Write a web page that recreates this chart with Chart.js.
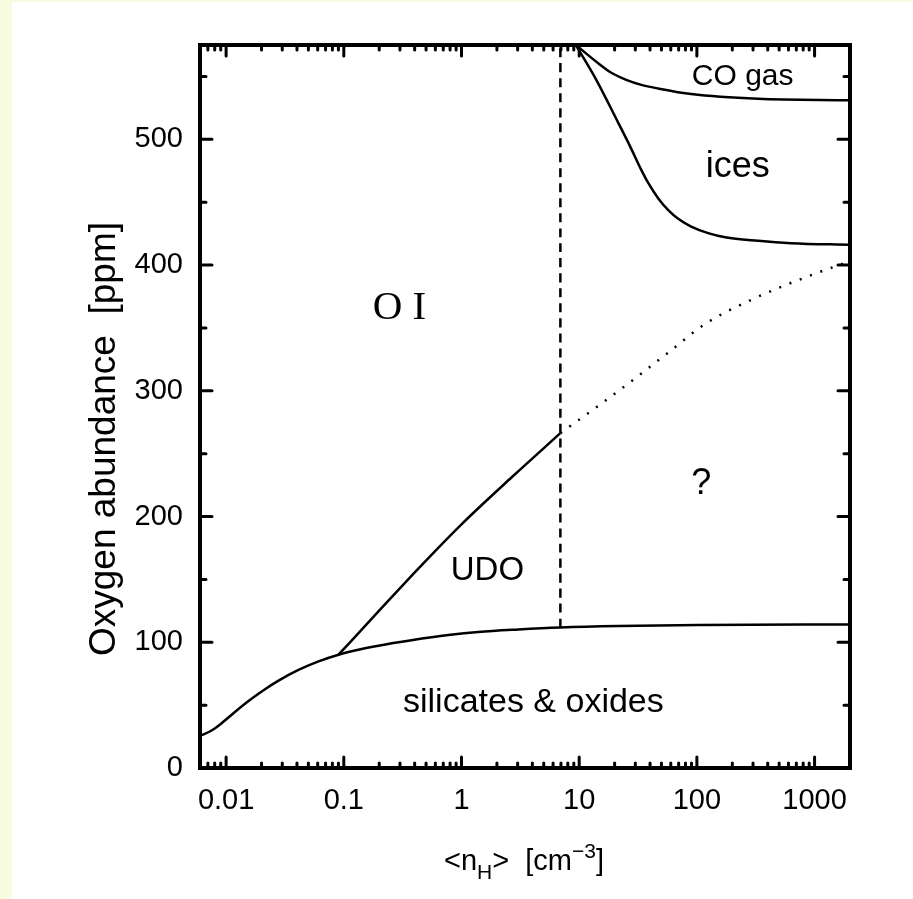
<!DOCTYPE html>
<html lang="en">
<head>
<meta charset="UTF-8">
<title>Oxygen abundance vs density</title>
<script src="https://cdn.jsdelivr.net/npm/chart.js"></script>
<style>
  body { margin: 0; background: #f7fce1; overflow: hidden; }
  .frame { position: absolute; left: 12px; top: 2px; width: 901px; height: 897px; background: #fff; }
</style>
</head>
<body>
<div class="frame"><canvas id="chart"></canvas></div>
<script>
// axis ticks
const xTicks = [0.01, 0.1, 1, 10, 100, 1000];
const xTickLabels = ['0.01', '0.1', '1', '10', '100', '1000'];
const yTicks = [0, 100, 200, 300, 400, 500];

// silicates & oxides boundary
const silX = [0.006, 0.0074, 0.009, 0.0116, 0.0155, 0.0208, 0.0279, 0.0412, 0.061, 0.0902, 0.133, 0.197, 0.376, 0.774, 1.39, 3.04, 6.92, 21.5, 103, 2000];
const silY = [25.5, 29.4, 35, 43.8, 53.3, 61.9, 69.5, 78, 84.8, 90.1, 94.1, 97.3, 101.6, 105.7, 108.2, 110.2, 111.8, 113, 113.8, 114.2];
// UDO upper boundary
const udoX = [0.0902, 0.197, 0.43, 0.99, 2.67, 6.92];
const udoY = [90.1, 124.5, 158.6, 193.4, 231.2, 266.3];
// uncertain continuation (dotted)
const dotX = [6.92, 15, 30, 60, 117, 300, 1000, 2000];
const dotY = [266.3, 289, 310, 332, 353, 373, 393, 403];
// density limit (dashed)
const limX = [6.92, 6.92];
const limY = [111.8, 575];
// CO gas boundary
const coX = [9.36, 14.5, 18.73, 25.1, 33.7, 47, 89.5, 331, 2000];
const coY = [575, 560.5, 552.9, 547.3, 543.3, 540.4, 536, 532.2, 531.1];
// ices boundary
const iceX = [9.36, 13.97, 21.48, 27.2, 33.7, 38.6, 47, 57.1, 69.4, 89.5, 124.7, 173.9, 331, 631, 2000];
const iceY = [575, 547.3, 513.1, 494, 475.7, 465.3, 453, 443.7, 436.8, 430.6, 425.4, 422.1, 419.3, 417.4, 416.1];

const regionLabels = [
  { text: 'O I', x: 0.297, y: 366, font: '41px "Liberation Serif"' },
  { text: 'CO gas', x: 245, y: 550, font: '30px "Liberation Sans"' },
  { text: 'ices', x: 222, y: 478, font: '36px "Liberation Sans"' },
  { text: '?', x: 109, y: 226, font: '36px "Liberation Sans"' },
  { text: 'UDO', x: 1.66, y: 157, font: '33px "Liberation Sans"' },
  { text: 'silicates & oxides', x: 4.08, y: 52, font: '34px "Liberation Sans"' }
];

const pts = (xs, ys) => xs.map((x, i) => ({ x: x, y: ys[i] }));

function line(xs, ys, dash) {
  return {
    data: pts(xs, ys),
    borderColor: '#000',
    borderWidth: 2.5,
    borderDash: dash || [],
    pointRadius: 0,
    cubicInterpolationMode: 'monotone',
    fill: false
  };
}

// inward ticks on all four sides + frame + titles + region labels
const decor = {
  id: 'decor',
  afterDatasetsDraw(chart) {
    const { ctx, chartArea: a, scales: { x, y } } = chart;
    ctx.save();
    ctx.strokeStyle = '#000';
    ctx.lineWidth = 3;
    ctx.lineCap = 'round';
    ctx.beginPath();
    for (let e = -3; e <= 3; e++) {
      for (let m = 1; m <= 9; m++) {
        const v = m * Math.pow(10, e);
        if (v < x.min || v > x.max) continue;
        const px = x.getPixelForValue(v);
        const len = m === 1 ? 11 : 5;
        ctx.moveTo(px, a.bottom); ctx.lineTo(px, a.bottom - len);
        ctx.moveTo(px, a.top); ctx.lineTo(px, a.top + len);
      }
    }
    for (let v = 0; v <= y.max; v += 50) {
      const py = y.getPixelForValue(v);
      const len = v % 100 === 0 ? 12 : 6;
      ctx.moveTo(a.left, py); ctx.lineTo(a.left + len, py);
      ctx.moveTo(a.right, py); ctx.lineTo(a.right - len, py);
    }
    ctx.stroke();
    ctx.lineCap = 'butt';
    ctx.lineWidth = 4;
    ctx.strokeRect(a.left, a.top, a.right - a.left, a.bottom - a.top);

    ctx.fillStyle = '#000';
    ctx.textAlign = 'center';
    ctx.textBaseline = 'middle';
    regionLabels.forEach(l => {
      ctx.font = l.font;
      ctx.fillText(l.text, x.getPixelForValue(l.x), y.getPixelForValue(l.y));
    });

    // y title
    ctx.save();
    ctx.translate(93, 437);
    ctx.rotate(-Math.PI / 2);
    ctx.font = '37px "Liberation Sans"';
    ctx.fillText('Oxygen abundance  [ppm]', 0, 0);
    ctx.restore();

    // x title with sub/superscript
    const parts = [
      { t: '<n', s: 29, dy: 0 },
      { t: 'H', s: 21, dy: 9 },
      { t: '>  [cm', s: 29, dy: 0 },
      { t: '\u22123', s: 21, dy: -12 },
      { t: ']', s: 29, dy: 0 }
    ];
    let w = 0;
    parts.forEach(p => { ctx.font = p.s + 'px "Liberation Sans"'; p.w = ctx.measureText(p.t).width; w += p.w; });
    let cx = 512 - w / 2;
    const by = 868;
    ctx.textAlign = 'left';
    ctx.textBaseline = 'alphabetic';
    parts.forEach(p => {
      ctx.font = p.s + 'px "Liberation Sans"';
      ctx.fillText(p.t, cx, by + p.dy);
      cx += p.w;
    });
    ctx.restore();
  }
};

new Chart(document.getElementById('chart'), {
  type: 'line',
  data: {
    datasets: [
      line(silX, silY),
      line(udoX, udoY),
      line(dotX, dotY, [2, 9]),
      line(limX, limY, [9, 6]),
      line(coX, coY),
      line(iceX, iceY)
    ]
  },
  options: {
    responsive: true,
    maintainAspectRatio: false,
    animation: false,
    layout: { padding: { top: 43, right: 63, left: 0, bottom: 0 } },
    plugins: { legend: { display: false }, tooltip: { enabled: false } },
    scales: {
      x: {
        type: 'logarithmic',
        min: 0.006,
        max: 2000,
        grid: { display: false, drawTicks: false },
        border: { display: false },
        afterBuildTicks: s => { s.ticks = xTicks.map(v => ({ value: v })); },
        afterFit: s => { s.height = 131; },
        ticks: {
          padding: 16,
          maxRotation: 0,
          autoSkip: false,
          color: '#000',
          font: { family: 'Liberation Sans', size: 29 },
          callback: (v) => xTickLabels[xTicks.indexOf(v)]
        }
      },
      y: {
        min: 0,
        max: 575,
        grid: { display: false, drawTicks: false },
        border: { display: false },
        afterBuildTicks: s => { s.ticks = yTicks.map(v => ({ value: v })); },
        afterFit: s => { s.width = 188; },
        ticks: {
          padding: 17,
          color: '#000',
          font: { family: 'Liberation Sans', size: 29 }
        }
      }
    }
  },
  plugins: [decor]
});
</script>
</body>
</html>
